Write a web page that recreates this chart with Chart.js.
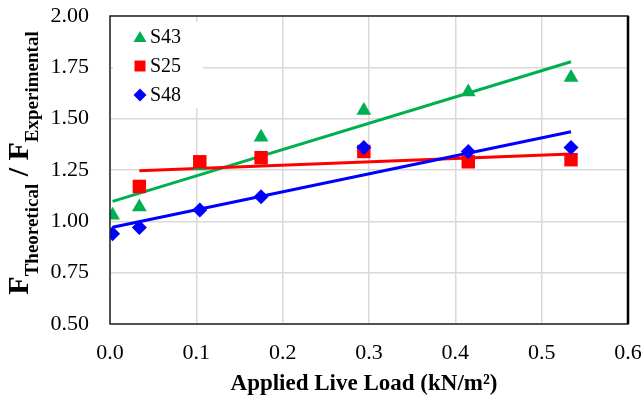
<!DOCTYPE html>
<html>
<head>
<meta charset="utf-8">
<script src="https://cdn.jsdelivr.net/npm/chart.js@4.4.0/dist/chart.umd.min.js"></script>
<style>
  html, body { margin: 0; padding: 0; background: #fff; }
  #wrap { width: 644px; height: 403px; }
</style>
</head>
<body>
<div id="wrap"><canvas id="chart" width="644" height="403"></canvas></div>
<script>
// applied live load (kN/m2)
var loads = [0.003, 0.034, 0.104, 0.175, 0.294, 0.415, 0.534];
var loadsS25 = [0.034, 0.104, 0.175, 0.294, 0.415, 0.534];
// F theoretical / F experimental
var s43 = [1.03, 1.07, 1.27, 1.41, 1.54, 1.63, 1.70];
var s25 = [1.17, 1.29, 1.31, 1.34, 1.29, 1.30];
var s48 = [0.94, 0.97, 1.055, 1.12, 1.36, 1.34, 1.36];
var seriesNames = ["S43", "S25", "S48"];
var yTicks = [0.50, 0.75, 1.00, 1.25, 1.50, 1.75, 2.00];
var xTicks = [0.0, 0.1, 0.2, 0.3, 0.4, 0.5, 0.6];

var green = "#00B050", red = "#FF0000", blue = "#0000FF";
var serif = "'Liberation Serif', 'Times New Roman', serif";

function points(xs, ys) {
    return xs.map(function (x, i) { return { x: x, y: ys[i] }; });
}

// linear trendline (least squares), from first to last x like excel does
function trend(xs, ys) {
    var n = xs.length, mx = 0, my = 0;
    for (var i = 0; i < n; i++) { mx += xs[i]; my += ys[i]; }
    mx /= n; my /= n;
    var sxy = 0, sxx = 0;
    for (var j = 0; j < n; j++) {
        sxy += (xs[j] - mx) * (ys[j] - my);
        sxx += (xs[j] - mx) * (xs[j] - mx);
    }
    var b = sxy / sxx, a = my - b * mx;
    var x0 = Math.min.apply(null, xs), x1 = Math.max.apply(null, xs);
    return [{ x: x0, y: a + b * x0 }, { x: x1, y: a + b * x1 }];
}

function lineSet(data, color, order) {
    return {
        type: 'line', data: data, borderColor: color, borderWidth: 3,
        pointRadius: 0, fill: false, order: order, showLine: true
    };
}

// frame, legend and axis titles
var extras = {
    id: 'extras',
    afterDatasetsDraw: function (chart) {
        var ctx = chart.ctx, a = chart.chartArea;
        ctx.save();
        // plot frame
        ctx.strokeStyle = "#222";
        ctx.lineWidth = 1.5;
        ctx.strokeRect(a.left, a.top, a.right - a.left, a.bottom - a.top);
        ctx.strokeStyle = "#000";
        ctx.lineWidth = 2.5;
        ctx.beginPath();
        ctx.moveTo(a.right, a.top);
        ctx.lineTo(a.right, a.bottom);
        ctx.stroke();

        // legend
        ctx.fillStyle = "#fff";
        ctx.fillRect(a.left + 3, a.top + 6, 90, 86);
        var colors = [green, red, blue];
        ctx.font = "20px " + serif;
        ctx.textBaseline = "middle";
        ctx.textAlign = "left";
        for (var i = 0; i < 3; i++) {
            var cx = a.left + 30, cy = a.top + 21 + i * 29;
            ctx.fillStyle = colors[i];
            ctx.beginPath();
            if (i === 0) {
                ctx.moveTo(cx, cy - 6);
                ctx.lineTo(cx + 6.5, cy + 5);
                ctx.lineTo(cx - 6.5, cy + 5);
            } else if (i === 1) {
                ctx.rect(cx - 5.5, cy - 5.5, 11, 11);
            } else {
                ctx.moveTo(cx, cy - 6.5);
                ctx.lineTo(cx + 6.5, cy);
                ctx.lineTo(cx, cy + 6.5);
                ctx.lineTo(cx - 6.5, cy);
            }
            ctx.closePath();
            ctx.fill();
            ctx.fillStyle = "#000";
            ctx.fillText(seriesNames[i], cx + 10, cy + 1);
        }

        // x title
        ctx.font = "bold 23px " + serif;
        ctx.textAlign = "center";
        ctx.textBaseline = "middle";
        ctx.fillText("Applied Live Load (kN/m\u00B2)", 364, 384);

        // y title with subscripts
        var parts = [
            { t: "F", f: "bold 30px " + serif, d: 0 },
            { t: "Theoretical", f: "bold 19px " + serif, d: 10 },
            { t: " / ", f: "bold 30px " + serif, d: 0 },
            { t: "F", f: "bold 30px " + serif, d: 0 },
            { t: "Experimental", f: "bold 19px " + serif, d: 10 }
        ];
        var total = 0;
        parts.forEach(function (p) { ctx.font = p.f; p.w = ctx.measureText(p.t).width; total += p.w; });
        ctx.translate(28, 163);
        ctx.rotate(-Math.PI / 2);
        ctx.textAlign = "left";
        ctx.textBaseline = "alphabetic";
        var x = -total / 2;
        parts.forEach(function (p) {
            ctx.font = p.f;
            ctx.fillText(p.t, x, p.d);
            x += p.w;
        });
        ctx.restore();
    }
};

new Chart(document.getElementById("chart"), {
    type: 'scatter',
    data: {
        datasets: [
            { label: seriesNames[2], data: points(loads, s48), backgroundColor: blue, borderColor: blue,
              pointStyle: 'rectRot', pointRadius: 7.5, pointHoverRadius: 7.5, borderWidth: 0, order: 1 },
            { label: seriesNames[1], data: points(loadsS25, s25), backgroundColor: red, borderColor: red,
              pointStyle: 'rect', pointRadius: 9.5, pointHoverRadius: 9.5, borderWidth: 0, order: 2 },
            { label: seriesNames[0], data: points(loads, s43), backgroundColor: green, borderColor: green,
              pointStyle: 'triangle', pointRadius: 8.5, pointHoverRadius: 8.5, borderWidth: 0, order: 3 },
            lineSet(trend(loads, s48), blue, 4),
            lineSet(trend(loadsS25, s25), red, 5),
            lineSet(trend(loads, s43), green, 6)
        ]
    },
    options: {
        responsive: false,
        animation: false,
        layout: { autoPadding: false, padding: { left: 0, top: 16, right: 16, bottom: 0 } },
        plugins: {
            legend: { display: false },
            tooltip: { enabled: false }
        },
        scales: {
            x: {
                type: 'linear', min: xTicks[0], max: xTicks[xTicks.length - 1],
                afterFit: function (s) {
                    s.height = 79;
                    s.paddingLeft = 0; s.paddingRight = 0; s.paddingTop = 0; s.paddingBottom = 0;
                },
                afterBuildTicks: function (s) { s.ticks = xTicks.map(function (v) { return { value: v }; }); },
                grid: { color: "#D9D9D9", lineWidth: 1.5, drawTicks: false },
                border: { display: false },
                ticks: {
                    padding: 16, color: "#000",
                    font: { family: serif, size: 22 },
                    callback: function (v) { return Number(v).toFixed(1); }
                }
            },
            y: {
                type: 'linear', min: yTicks[0], max: yTicks[yTicks.length - 1],
                afterFit: function (s) {
                    s.width = 110;
                    s.paddingLeft = 0; s.paddingRight = 0; s.paddingTop = 0; s.paddingBottom = 0;
                },
                afterBuildTicks: function (s) { s.ticks = yTicks.map(function (v) { return { value: v }; }); },
                grid: { color: "#D9D9D9", lineWidth: 1.5, drawTicks: false },
                border: { display: false },
                ticks: {
                    padding: 21, color: "#000",
                    font: { family: serif, size: 22 },
                    callback: function (v) { return Number(v).toFixed(2); }
                }
            }
        }
    },
    plugins: [extras]
});
</script>
</body>
</html>
